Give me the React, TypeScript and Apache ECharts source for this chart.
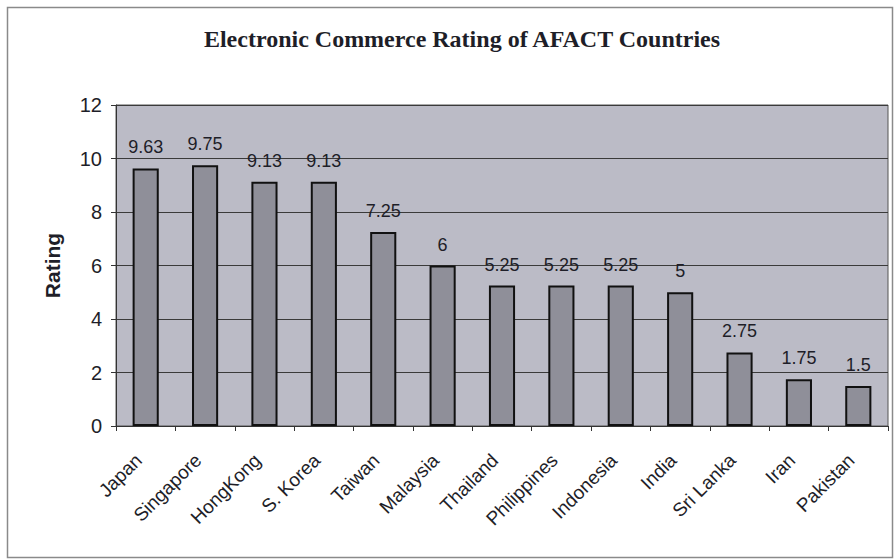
import React, { useEffect, useRef } from "react";
import * as echarts from "echarts";

const countries = [
  "Japan", "Singapore", "HongKong", "S. Korea", "Taiwan", "Malaysia", "Thailand",
  "Philippines", "Indonesia", "India", "Sri Lanka", "Iran", "Pakistan",
];
const ratings = [9.63, 9.75, 9.13, 9.13, 7.25, 6, 5.25, 5.25, 5.25, 5, 2.75, 1.75, 1.5];
const titleText = "Electronic Commerce Rating of AFACT Countries";
const yAxisName = "Rating";

export default function App() {
  const ref = useRef<HTMLDivElement>(null);

  useEffect(() => {
    if (!ref.current) return;
    const chart = echarts.init(ref.current, null, { renderer: "svg" });
    chart.setOption({
      animation: false,
      backgroundColor: "#ffffff",
      title: {
        text: titleText,
        left: 457,
        textAlign: "center",
        top: 22,
        textStyle: {
          fontFamily: "Liberation Serif",
          fontWeight: "bold",
          fontSize: 24,
          color: "#1e1e28",
        },
      },
      graphic: [
        {
          type: "rect",
          shape: { x: 7.5, y: 7.5, width: 885, height: 550 },
          style: { fill: "none", stroke: "#8a8a8a", lineWidth: 1.5 },
          silent: true,
          z: -1,
        },
      ],
      grid: {
        left: 116,
        right: 8,
        top: 105,
        bottom: 134,
        show: true,
        backgroundColor: "#bbbbc6",
        borderColor: "#555",
        borderWidth: 1,
      },
      xAxis: {
        type: "category",
        data: countries,
        axisLine: { lineStyle: { color: "#333", width: 1 } },
        axisTick: { show: true, length: 5, lineStyle: { color: "#333" } },
        axisLabel: {
          rotate: 45,
          interval: 0,
          margin: 24,
          padding: [0, 10, 0, 0],
          fontFamily: "Liberation Sans",
          fontSize: 19,
          color: "#1e1e28",
        },
      },
      yAxis: {
        type: "value",
        min: 0,
        max: 12,
        interval: 2,
        name: yAxisName,
        nameLocation: "middle",
        nameGap: 53,
        nameTextStyle: {
          fontFamily: "Liberation Sans",
          fontWeight: "bold",
          fontSize: 21,
          color: "#1e1e28",
        },
        axisLine: { show: true, lineStyle: { color: "#333" } },
        axisTick: { show: true, length: 5, lineStyle: { color: "#333" } },
        axisLabel: {
          fontFamily: "Liberation Sans",
          fontSize: 20,
          color: "#1e1e28",
          margin: 14,
        },
        splitLine: { show: true, lineStyle: { color: "#3a3a3a", width: 1 } },
      },
      series: [
        {
          type: "bar",
          data: ratings,
          barWidth: "44%",
          itemStyle: { color: "#8f8f99", borderColor: "#111", borderWidth: 2 },
          label: {
            show: true,
            position: "top",
            distance: 12,
            fontFamily: "Liberation Sans",
            fontSize: 18,
            color: "#1e1e28",
          },
        },
      ],
    });
    return () => chart.dispose();
  }, []);

  return (
    <div
      ref={ref}
      style={{ position: "fixed", left: 0, top: 0, width: 896, height: 560 }}
    />
  );
}
